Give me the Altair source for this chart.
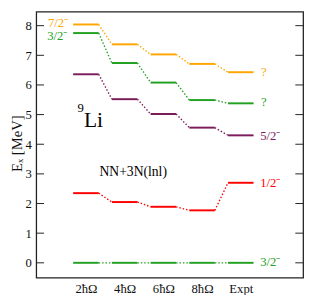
import altair as alt
import pandas as pd

# ---- data ----
methods = ["2ħΩ", "4ħΩ", "6ħΩ", "8ħΩ", "Expt"]
positions = [1, 2, 3, 4, 5]
state_ids = ["s72", "s32b", "s52", "s12", "s32"]
state_colors = ["#FFA500", "#22A022", "#7B1C5B", "#FF0000", "#22A022"]
E_72 = [8.04, 7.37, 7.03, 6.71, 6.43]
E_32b = [7.75, 6.74, 6.08, 5.49, 5.38]
E_52 = [6.36, 5.52, 5.02, 4.56, 4.30]
E_12 = [2.35, 2.05, 1.89, 1.77, 2.70]
E_gs = [0.0, 0.0, 0.0, 0.0, 0.0]
series = [E_72, E_32b, E_52, E_12, E_gs]

label_text = ["7/2⁻", "3/2⁻", "?", "?", "5/2⁻", "1/2⁻", "3/2⁻"]
label_state = ["s72", "s32b", "s72", "s32b", "s52", "s12", "s32"]
label_x = [0.02, 0.0, 5.52, 5.52, 5.5, 5.5, 5.5]
label_y = [8.1, 7.65, 6.43, 5.42, 4.28, 2.69, 0.03]

half = 0.33

# ---- tables built from the arrays ----
lev_rows, con_rows = [], []
for sid, vals in zip(state_ids, series):
    for i, (p, e) in enumerate(zip(positions, vals)):
        lev_rows.append({"state": sid, "x1": p - half, "x2": p + half, "E": e})
        if i + 1 < len(vals):
            con_rows.append({"state": sid, "xa": p + half, "ya": e,
                             "xb": positions[i + 1] - half, "yb": vals[i + 1]})
levels = pd.DataFrame(lev_rows)
conns = pd.DataFrame(con_rows)
labels = pd.DataFrame({"text": label_text, "state": label_state,
                       "x": label_x, "y": label_y})
ticks = pd.DataFrame({"v": list(range(0, 9))})

font = "Liberation Serif"
xs = alt.Scale(domain=[-0.283, 6.61], nice=False, zero=False)
ys = alt.Scale(domain=[-0.5, 8.47], nice=False, zero=False)
cs = alt.Scale(domain=state_ids, range=state_colors)

label_expr = "[''," + ",".join("'" + m + "'" for m in methods) + "][datum.value]"
xaxis = alt.Axis(values=positions, labelExpr=label_expr, title=None, labelPadding=5)
yaxis = alt.Axis(values=list(range(0, 9)), title="Eₓ [MeV]", titlePadding=1,
                 labelPadding=5, titleY=135)

lev = alt.Chart(levels).mark_rule(strokeWidth=2).encode(
    x=alt.X("x1:Q", scale=xs, axis=xaxis),
    x2="x2:Q",
    y=alt.Y("E:Q", scale=ys, axis=yaxis),
    color=alt.Color("state:N", scale=cs, legend=None),
)

con = alt.Chart(conns).mark_rule(strokeWidth=1.4, strokeDash=[1.5, 2]).encode(
    x=alt.X("xa:Q", scale=xs, axis=xaxis),
    x2="xb:Q",
    y=alt.Y("ya:Q", scale=ys, axis=yaxis),
    y2="yb:Q",
    color=alt.Color("state:N", scale=cs, legend=None),
)

lab = alt.Chart(labels).mark_text(align="left", baseline="middle", font=font,
                                  fontSize=13).encode(
    x=alt.X("x:Q", scale=xs, axis=xaxis),
    y=alt.Y("y:Q", scale=ys, axis=yaxis),
    text="text:N",
    color=alt.Color("state:N", scale=cs, legend=None),
)

ann = pd.DataFrame({"text": ["9", "Li", "NN+3N(lnl)"],
                    "x": [0.78, 0.95, 1.35],
                    "y": [5.22, 4.80, 3.05],
                    "size": [13, 22, 14]})
ann_main = alt.Chart(ann).mark_text(align="left", baseline="middle", font=font,
                                    color="#000").encode(
    x=alt.X("x:Q", scale=xs, axis=xaxis),
    y=alt.Y("y:Q", scale=ys, axis=yaxis),
    text="text:N",
    size=alt.Size("size:Q", scale=None, legend=None),
)

tick_l = alt.Chart(ticks).mark_rule(color="#222", strokeWidth=1).encode(
    x=alt.value(0), x2=alt.value(8), y=alt.Y("v:Q", scale=ys, axis=yaxis))
tick_r = alt.Chart(ticks).mark_rule(color="#222", strokeWidth=1).encode(
    x=alt.value(266), x2=alt.value(274), y=alt.Y("v:Q", scale=ys, axis=yaxis))

chart = alt.layer(lev, con, lab, ann_main, tick_l, tick_r).properties(
    width=274, height=273,
    background="white",
    autosize=alt.AutoSizeParams(type="none"),
    padding={"left": 29, "top": 0, "right": 5, "bottom": 14},
).configure_view(
    stroke="#222", strokeWidth=1.3
).configure_axis(
    tickSize=0, domain=False, grid=False,
    labelFont=font, labelFontSize=13, labelColor="#111",
    titleFont=font, titleFontSize=15, titleFontWeight="normal", titleColor="#111",
)

chart.save("out.html", embed_options={"renderer": "svg", "actions": False})
